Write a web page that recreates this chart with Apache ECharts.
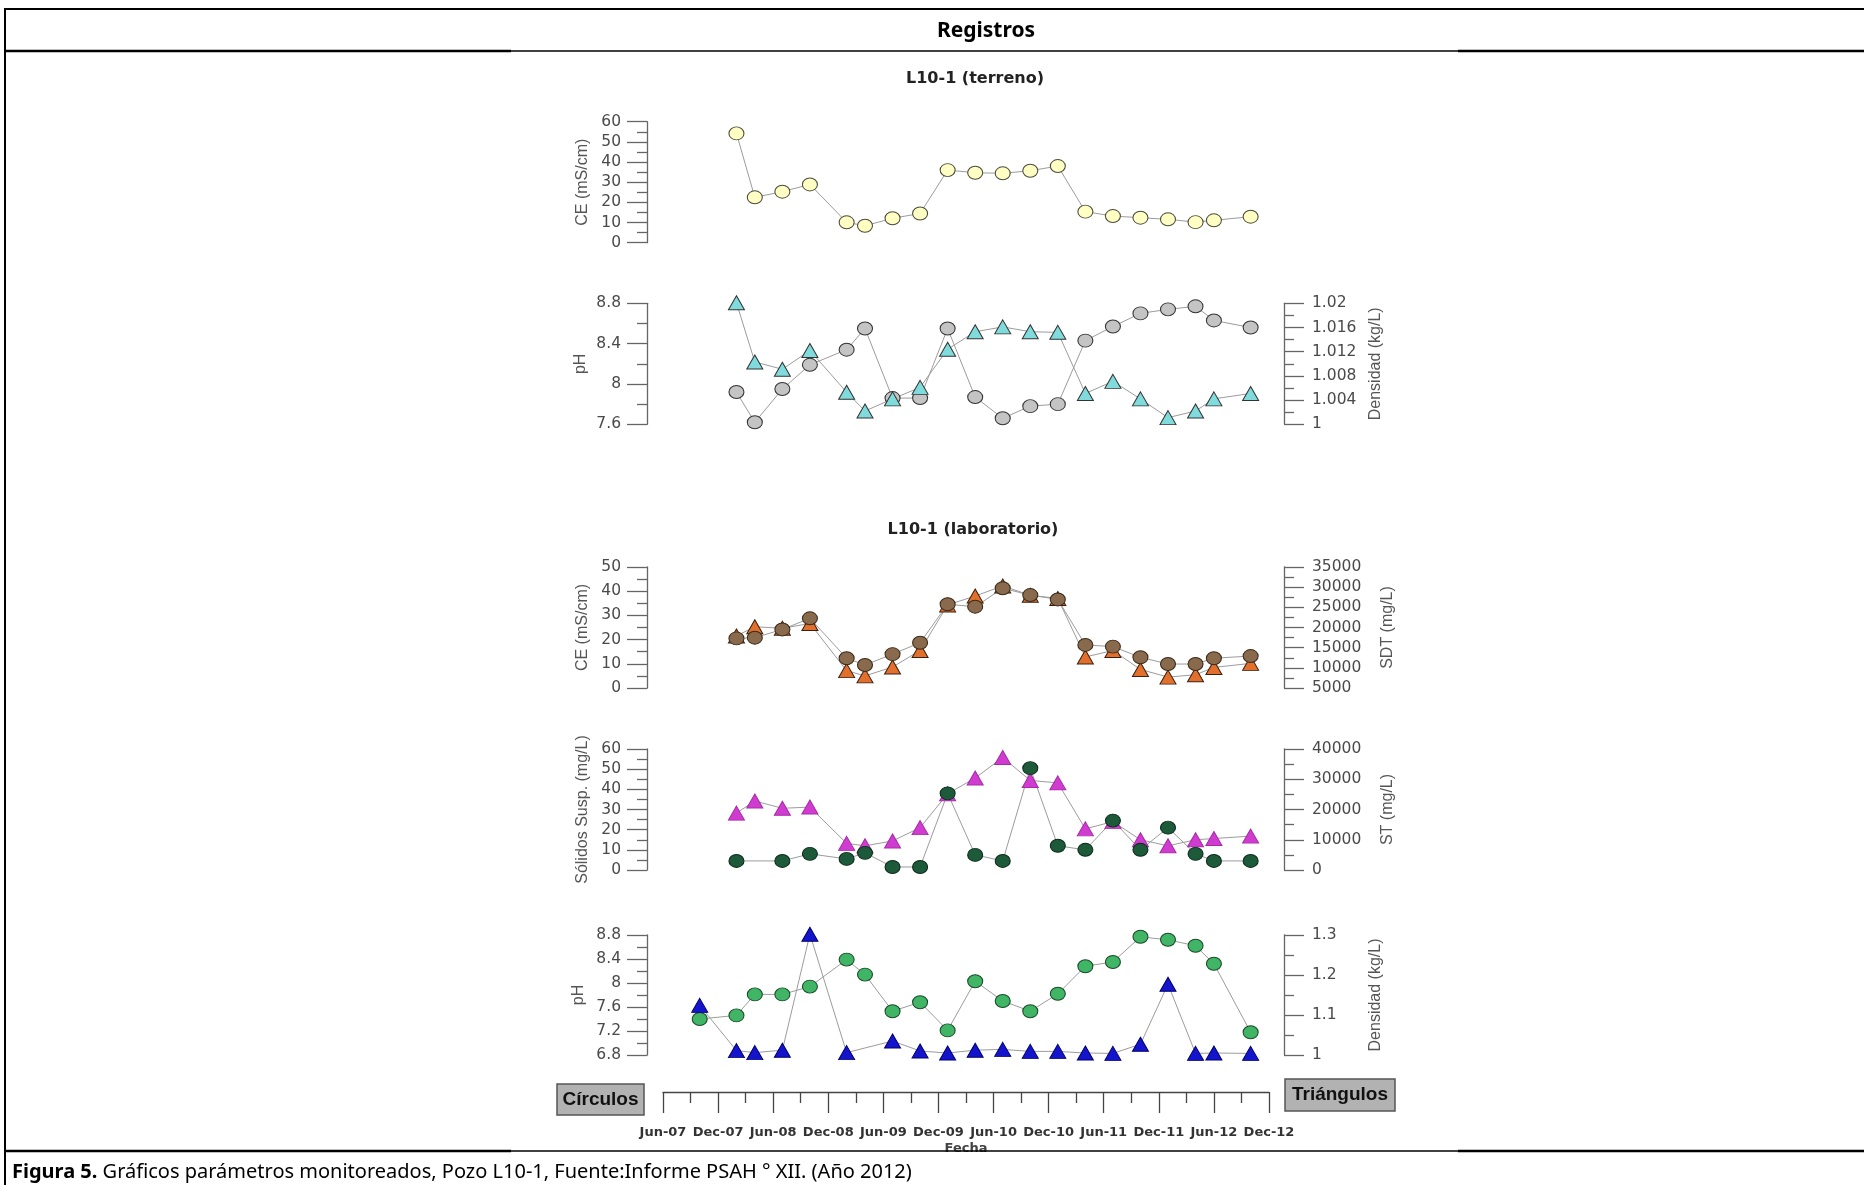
<!DOCTYPE html>
<html><head><meta charset="utf-8">
<script src="https://cdn.jsdelivr.net/npm/echarts@6/dist/echarts.min.js"></script>
<style>html,body{margin:0;padding:0;background:#fff}#c{width:1864px;height:1185px}</style>
</head><body><div id="c"></div>
<script>
// ---- tick labels ----
const xTickLabels = ['Jun-07','Dec-07','Jun-08','Dec-08','Jun-09','Dec-09','Jun-10','Dec-10','Jun-11','Dec-11','Jun-12','Dec-12'];

// ---- sampling dates ----
const datesMain = ['2008-02','2008-04','2008-07','2008-10','2009-02','2009-04','2009-07','2009-10','2010-01','2010-04','2010-07','2010-10','2011-01','2011-04','2011-07','2011-10','2012-01','2012-04','2012-06','2012-10'];
const datesSolidos = ['2008-02','2008-07','2008-10','2009-02','2009-04','2009-07','2009-10','2010-01','2010-04','2010-07','2010-10','2011-01','2011-04','2011-07','2011-10','2012-01','2012-04','2012-06','2012-10'];
const datesPhLab = ['2007-10','2008-02','2008-04','2008-07','2008-10','2009-02','2009-04','2009-07','2009-10','2010-01','2010-04','2010-07','2010-10','2011-01','2011-04','2011-07','2011-10','2012-01','2012-04','2012-06','2012-10'];
const datesDensLab = ['2007-10','2008-02','2008-04','2008-07','2008-10','2009-02','2009-07','2009-10','2010-01','2010-04','2010-07','2010-10','2011-01','2011-04','2011-07','2011-10','2012-01','2012-04','2012-06','2012-10'];

// ---- L10-1 (terreno) ----
const ceTerreno = [54.2,22.5,25.3,28.9,10.1,8.4,12.1,14.5,36.0,34.7,34.4,35.7,38.0,15.4,13.2,12.4,11.6,10.2,11.1,12.9];
const phTerreno = [7.92,7.62,7.95,8.19,8.34,8.55,7.86,7.86,8.55,7.87,7.66,7.78,7.80,8.43,8.57,8.70,8.74,8.77,8.63,8.56];
const densTerreno = [1.0201,1.0103,1.0091,1.0122,1.0053,1.0022,1.0042,1.0061,1.0124,1.0153,1.0161,1.0153,1.0152,1.0051,1.0071,1.0042,1.0011,1.0022,1.0042,1.0051];

// ---- L10-1 (laboratorio) ----
const ceLab = [20.5,20.8,24.2,28.8,12.3,9.5,14.0,18.7,34.6,33.6,41.2,38.4,36.6,17.8,17.1,12.7,9.9,9.9,12.3,13.2];
const sdtLab = [17900,20200,19800,21000,9300,8000,10200,14300,25600,27800,30300,28000,27200,12700,14300,9600,7700,8300,10100,11100];
const solidosSusp = [4.5,4.5,8,5.5,8.5,1.5,1.5,38,7.5,4.5,50.5,12,10,24.5,10,21,8,4.5,4.5];
const stLab = [18800,22800,20400,20800,8800,8000,9600,14000,25200,30400,37200,29600,28800,13600,16000,10000,8000,10000,10400,11200];
const phLab = [7.40,7.46,7.81,7.81,7.94,8.39,8.14,7.53,7.68,7.21,8.03,7.70,7.53,7.82,8.28,8.35,8.77,8.72,8.62,8.32,7.18];
const densLab = [1.124,1.011,1.006,1.012,1.302,1.006,1.035,1.010,1.005,1.012,1.014,1.009,1.009,1.005,1.004,1.027,1.177,1.004,1.005,1.004];

// months since Jun-2007
function mIdx(s){ const [y,m] = s.split('-').map(Number); return (y-2007)*12 + (m-6); }
function pts(dates, vals){ return dates.map((d,i)=>[mIdx(d), vals[i]]); }

const LEFT = 663, WIDTH = 606;
const panels = [
  {top:121.7, height:121},
  {top:303.3, height:121},
  {top:567, height:121},
  {top:749, height:121},
  {top:935, height:120}
];
const tickColor = '#666';
const labelStyle = {color:'#4a4a4a', fontFamily:'DejaVu Sans', fontSize:15.5};
const nameStyle = {color:'#555', fontFamily:'Liberation Sans', fontSize:16};

function yAx(gi, pos, min, max, interval, name, nameGap, fmt){
  return {
    type:'value', gridIndex:gi, position:pos, offset: pos==='left'?16:15,
    min, max, interval,
    axisLine:{show:true, onZero:false, lineStyle:{color:tickColor, width:1.3}},
    axisTick:{show:true, length:20, lineStyle:{color:tickColor, width:1.3}},
    minorTick:{show:true, splitNumber:2, length:10, lineStyle:{color:tickColor, width:1.3}},
    splitLine:{show:false}, minorSplitLine:{show:false},
    axisLabel:Object.assign({margin:pos==='left'?26:28, formatter: fmt || (v=>String(v))}, labelStyle),
    name, nameLocation:'middle', nameGap, nameMoveOverlap:false, nameTextStyle:nameStyle
  };
}

const grids = panels.map(p=>({left:LEFT, width:WIDTH, top:p.top, height:p.height}));
const xAxes = panels.map((p,i)=>{
  if (i < 4) return {type:'value', gridIndex:i, min:0, max:66, interval:6, show:false};
  return {
    type:'value', gridIndex:i, min:0, max:66, interval:6, position:'bottom', offset:37,
    axisLine:{show:true, onZero:false, lineStyle:{color:'#444', width:1.3}},
    axisTick:{show:true, length:21, lineStyle:{color:'#444', width:1.3}},
    minorTick:{show:true, splitNumber:2, length:11, lineStyle:{color:'#444', width:1.3}},
    splitLine:{show:false}, minorSplitLine:{show:false},
    axisLabel:{margin:34, color:'#333', fontFamily:'DejaVu Sans', fontWeight:'bold', fontSize:13,
      formatter:v=>xTickLabels[Math.round(v/6)]},
    name:'Fecha', nameLocation:'middle', nameGap:50, nameMoveOverlap:false,
    nameTextStyle:{color:'#444', fontFamily:'DejaVu Sans', fontWeight:'bold', fontSize:13}
  };
});

const fmt3 = v => String(+(+v).toFixed(3));
const fmt1 = v => String(+(+v).toFixed(1));
const yAxes = [
  yAx(0,'left',0,60,10,'CE (mS/cm)',56),
  yAx(1,'left',7.6,8.8,0.4,'pH',58,fmt1),
  yAx(1,'right',1,1.02,0.004,'Densidad (kg/L)',84,fmt3),
  yAx(2,'left',0,50,10,'CE (mS/cm)',56),
  yAx(2,'right',5000,35000,5000,'SDT (mg/L)',96),
  yAx(3,'left',0,60,10,'Sólidos Susp. (mg/L)',56),
  yAx(3,'right',0,40000,10000,'ST (mg/L)',96),
  yAx(4,'left',6.8,8.8,0.4,'pH',60,fmt1),
  yAx(4,'right',1,1.3,0.1,'Densidad (kg/L)',84,fmt1)
];

const lineStyle = {color:'#9c9c9c', width:1};
function ser(xi, yi, data, symbol, fill, border){
  return {
    type:'line', xAxisIndex:xi, yAxisIndex:yi, data, symbol, clip:false,
    symbolSize: symbol==='circle' ? [15,13] : [16,14],
    itemStyle:{color:fill, borderColor:border, borderWidth:1},
    lineStyle, silent:true, animation:false, emphasis:{disabled:true}
  };
}
const series = [
  ser(0,0,pts(datesMain,ceTerreno),'circle','#ffffc4','#4a4a3a'),
  ser(1,1,pts(datesMain,phTerreno),'circle','#c4c4c4','#333'),
  ser(1,2,pts(datesMain,densTerreno),'triangle','#80dcdc','#333'),
  ser(2,4,pts(datesMain,sdtLab),'triangle','#e2702c','#3a2010'),
  ser(2,3,pts(datesMain,ceLab),'circle','#8a6a4c','#3a2a1a'),
  ser(3,6,pts(datesMain,stLab),'triangle','#d03cd0','#a82aa8'),
  ser(3,5,pts(datesSolidos,solidosSusp),'circle','#1d5a3a','#0c2a1a'),
  ser(4,7,pts(datesPhLab,phLab),'circle','#3fb565','#1a4a2a'),
  ser(4,8,pts(datesDensLab,densLab),'triangle','#1414cc','#000070')
];

function ln(x1,y1,x2,y2,w){ return {type:'line', z:101, shape:{x1,y1,x2,y2}, style:{stroke:'#000', lineWidth:w}}; }
const graphic = [
  {type:'rect', z:100, shape:{x:6, y:1152, width:1858, height:40}, style:{fill:'#fff'}},
  ln(5,9,1864,9,2),
  ln(5,8,5,1185,2),
  ln(5,51,511,51,2.6), ln(511,51,1458,51,1.4), ln(1458,51,1864,51,2.6),
  ln(5,1151,511,1151,2.6), ln(511,1151,1458,1151,1.4), ln(1458,1151,1864,1151,2.6),
  {type:'text', z:101, x:986, y:31, style:{text:'Registros', fill:'#000', font:'bold 21px "Noto Sans"', textAlign:'center', textVerticalAlign:'middle'}},
  {type:'text', z:101, x:975, y:79, style:{text:'L10-1 (terreno)', fill:'#222', font:'bold 16px "DejaVu Sans"', textAlign:'center', textVerticalAlign:'middle'}},
  {type:'text', z:101, x:973, y:530, style:{text:'L10-1 (laboratorio)', fill:'#222', font:'bold 16px "DejaVu Sans"', textAlign:'center', textVerticalAlign:'middle'}},
  {type:'rect', z:101, shape:{x:557, y:1084, width:87, height:31}, style:{fill:'#b2b2b2', stroke:'#555', lineWidth:1.5}},
  {type:'text', z:102, x:600.5, y:1100, style:{text:'Círculos', fill:'#111', font:'bold 19px "Liberation Sans"', textAlign:'center', textVerticalAlign:'middle'}},
  {type:'rect', z:101, shape:{x:1285, y:1079, width:110, height:32}, style:{fill:'#b2b2b2', stroke:'#555', lineWidth:1.5}},
  {type:'text', z:102, x:1340, y:1095, style:{text:'Triángulos', fill:'#111', font:'bold 19px "Liberation Sans"', textAlign:'center', textVerticalAlign:'middle'}},
  {type:'text', z:102, x:12, y:1172, style:{rich:{b:{font:'bold 20px "Noto Sans"', fill:'#000'}, r:{font:'20px "Noto Sans"', fill:'#000'}},
     text:'{b|Figura 5.}{r| Gráficos parámetros monitoreados, Pozo L10-1, Fuente:Informe PSAH ° XII. (Año 2012)}', textVerticalAlign:'middle'}}
];

const chart = echarts.init(document.getElementById('c'), null, {renderer:'canvas'});
chart.setOption({
  animation:false,
  backgroundColor:'#fff',
  grid:grids, xAxis:xAxes, yAxis:yAxes, series, graphic
});
</script></body></html>
